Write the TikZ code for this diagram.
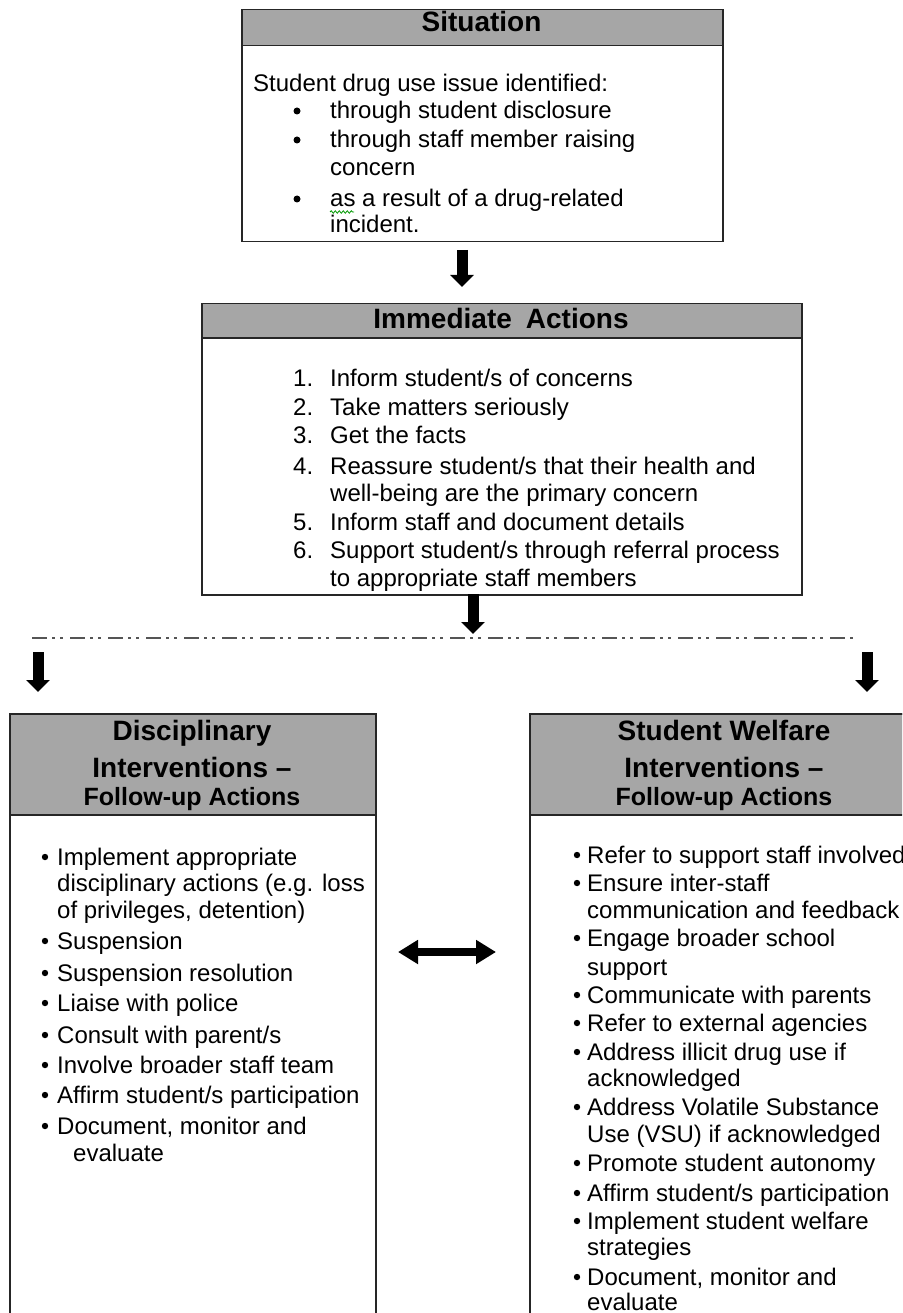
\documentclass[tikz,border=0pt]{standalone}
\usepackage{fontspec}
\setmainfont{Liberation Sans}
\usetikzlibrary{arrows.meta,decorations.pathmorphing}
\definecolor{headgray}{RGB}{166,166,166}
\definecolor{dashgray}{RGB}{85,85,85}
\begin{document}
\begin{tikzpicture}[x=1pt,y=-1pt,
		panel/.style={draw=black!85,line width=1.5pt,fill=white,inner sep=0pt,anchor=north west},
		headbar/.style={panel,fill=headgray},
		txt/.style={anchor=base west,inner sep=0pt,font=\fontsize{24}{28}\selectfont},
		ttl/.style={anchor=base,inner sep=0pt,font=\fontsize{28}{32}\selectfont\bfseries},
		subttl/.style={anchor=base,inner sep=0pt,font=\fontsize{25}{30}\selectfont\bfseries},
		fatarrow/.style={line width=11pt,-{Triangle[width=23pt,length=12pt]}},
		twoway/.style={line width=8pt,{Triangle[width=23pt,length=20pt]}-{Triangle[width=23pt,length=20pt]}},
		split/.style={dashgray,line width=2pt,dash pattern=on 15pt off 5pt on 3pt off 5pt on 3pt off 7pt}]
		\useasboundingbox (0,0) rectangle (902,1313);
		\clip (0,0) rectangle (902,1313);
		% boxes
		\node[panel,minimum width=481pt,minimum height=232pt] (sit) at (241,9) {};
		\node[headbar,minimum width=481pt,minimum height=36pt] (sithead) at (241,9) {};
		\node[panel,minimum width=600pt,minimum height=291pt] (imm) at (201,303) {};
		\node[headbar,minimum width=600pt,minimum height=34pt] (immhead) at (201,303) {};
		\node[panel,minimum width=366pt,minimum height=640pt] (disc) at (9,713) {};
		\node[headbar,minimum width=366pt,minimum height=101pt] (dischead) at (9,713) {};
		\node[panel,minimum width=390pt,minimum height=640pt] (welf) at (529,713) {};
		\node[headbar,minimum width=390pt,minimum height=101pt] (welfhead) at (529,713) {};
		% titles
		\node[ttl] (sittitle) at (481.5,32) {Situation};
		\node[ttl] (immtitle) at (501,328) {Immediate\hspace{14pt}Actions};
		\node[ttl] (disct1) at (192,740) {Disciplinary};
		\node[ttl] (disct2) at (192,777) {Interventions --};
		\node[subttl] (disct3) at (192,805) {Follow-up Actions};
		\node[ttl] (welft1) at (724,740) {Student Welfare};
		\node[ttl] (welft2) at (724,777) {Interventions --};
		\node[subttl] (welft3) at (724,805) {Follow-up Actions};
		% situation
		\node[txt] (sit0) at (253,92) {Student drug use issue identified:};
		\foreach \y/\t [count=\i] in {119/{through student disclosure},148/{through staff member raising},176/{concern},207/{as a result of a drug-related},233/{incident.}}{
			\node[txt] (sit\i) at (330,\y) {\t};
		}
		\foreach \y in {119,148,207}{
			\fill (297,\y-8) circle (3.5pt);
		}
		\draw[green!60!black,line width=0.8pt,decorate,decoration={snake,amplitude=1.2pt,segment length=4pt}] (sit4.base west)++(0,5) -- ++(24,0);
		% immediate actions
		\foreach \n/\y in {1/386,2/415,3/443,4/474,5/530,6/558}{
			\node[txt] (num\n) at (293,\y) {\n.};
		}
		\foreach \y/\t [count=\i] in {386/{Inform student/s of concerns},415/{Take matters seriously},443/{Get the facts},474/{Reassure student/s that their health and},501/{well-being are the primary concern},530/{Inform staff and document details},558/{Support student/s through referral process},586/{to appropriate staff members}}{
			\node[txt] (imm\i) at (330,\y) {\t};
		}
		% disciplinary list
		\foreach \y/\t [count=\i] in {865/{Implement appropriate},891/{disciplinary actions (e.g. loss},918/{of privileges, detention)},949/{Suspension},981/{Suspension resolution},1011/{Liaise with police},1043/{Consult with parent/s},1073/{Involve broader staff team},1103/{Affirm student/s participation},1134/{Document, monitor and}}{
			\node[txt] (disc\i) at (57,\y) {\t};
		}
		\node[txt] (disc11) at (73,1161) {evaluate};
		\foreach \y in {865,949,981,1011,1043,1073,1103,1134}{
			\fill (45,\y-8) circle (3.2pt);
		}
		% welfare list
		\foreach \y/\t [count=\i] in {863/{Refer to support staff involved},891/{Ensure inter-staff},918/{communication and feedback},946/{Engage broader school},975/{support},1003/{Communicate with parents},1031/{Refer to external agencies},1060/{Address illicit drug use if},1086/{acknowledged},1115/{Address Volatile Substance},1142/{Use (VSU) if acknowledged},1171/{Promote student autonomy},1201/{Affirm student/s participation},1229/{Implement student welfare},1255/{strategies},1285/{Document, monitor and},1310/{evaluate}}{
			\node[txt] (welf\i) at (587,\y) {\t};
		}
		\foreach \y in {863,891,946,1003,1031,1060,1115,1171,1201,1229,1285}{
			\fill (577,\y-8) circle (3.2pt);
		}
		% connectors
		\coordinate (a1s) at (462,250);
		\coordinate (a1e) at (462,287);
		\coordinate (a2s) at (473,594);
		\coordinate (a2e) at (473,634);
		\coordinate (splitL) at (32,638);
		\coordinate (splitR) at (857,638);
		\coordinate (dl1) at (38,652);
		\coordinate (dl2) at (38,692);
		\coordinate (dr1) at (867,652);
		\coordinate (dr2) at (867,692);
		\coordinate (tw1) at (398,952);
		\coordinate (tw2) at (496,952);
		\draw[fatarrow] (a1s)--(a1e);
		\draw[fatarrow] (a2s)--(a2e);
		\draw[split] (splitL)--(splitR);
		\draw[fatarrow] (dl1)--(dl2);
		\draw[fatarrow] (dr1)--(dr2);
		\draw[twoway] (tw1)--(tw2);
\end{tikzpicture}
\end{document}
